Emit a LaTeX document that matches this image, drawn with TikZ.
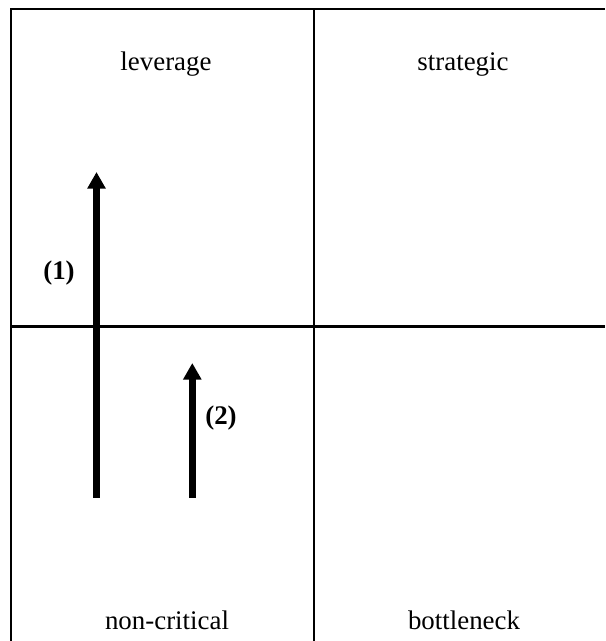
\documentclass[tikz,border=0pt]{standalone}
\usepackage{fontspec}
\setmainfont{Liberation Serif}
\usetikzlibrary{arrows.meta}

\begin{document}
\begin{tikzpicture}[x=0.02cm,y=-0.02cm,font=\fontsize{15.3}{18}\selectfont,>={Triangle[width=10pt,length=9.5pt]},grid/.style={line width=1.2pt},move/.style={->,line width=4pt},cell/.style={inner sep=0pt,anchor=base},tag/.style={font=\fontsize{15.3}{18}\selectfont\bfseries,inner sep=0pt}]
\useasboundingbox (0,0) rectangle (605,641);
% the four quadrants
\draw[grid] (11,641) -- (11,9) -- (605,9);\draw[grid] (314,9) -- (314,641);\draw[grid] (11,326.5) -- (605,326.5);
\node[cell] (leverage) at (166,71) {leverage};\node[cell] (strategic) at (463,71) {strategic};
\node[cell] (noncritical) at (167,629) {non-critical};\node[cell] (bottleneck) at (464,629) {bottleneck};
% moves between quadrants
\coordinate (s1) at (96.5,497.5);\coordinate (e1) at (96.5,172);\coordinate (s2) at (192.3,497.5);\coordinate (e2) at (192.3,363);
\draw[move] (s1) -- (e1);\draw[move] (s2) -- (e2);
\node[tag] (m1) at (59,273) {(1)};\node[tag] (m2) at (221,418) {(2)};
\end{tikzpicture}
\end{document}
